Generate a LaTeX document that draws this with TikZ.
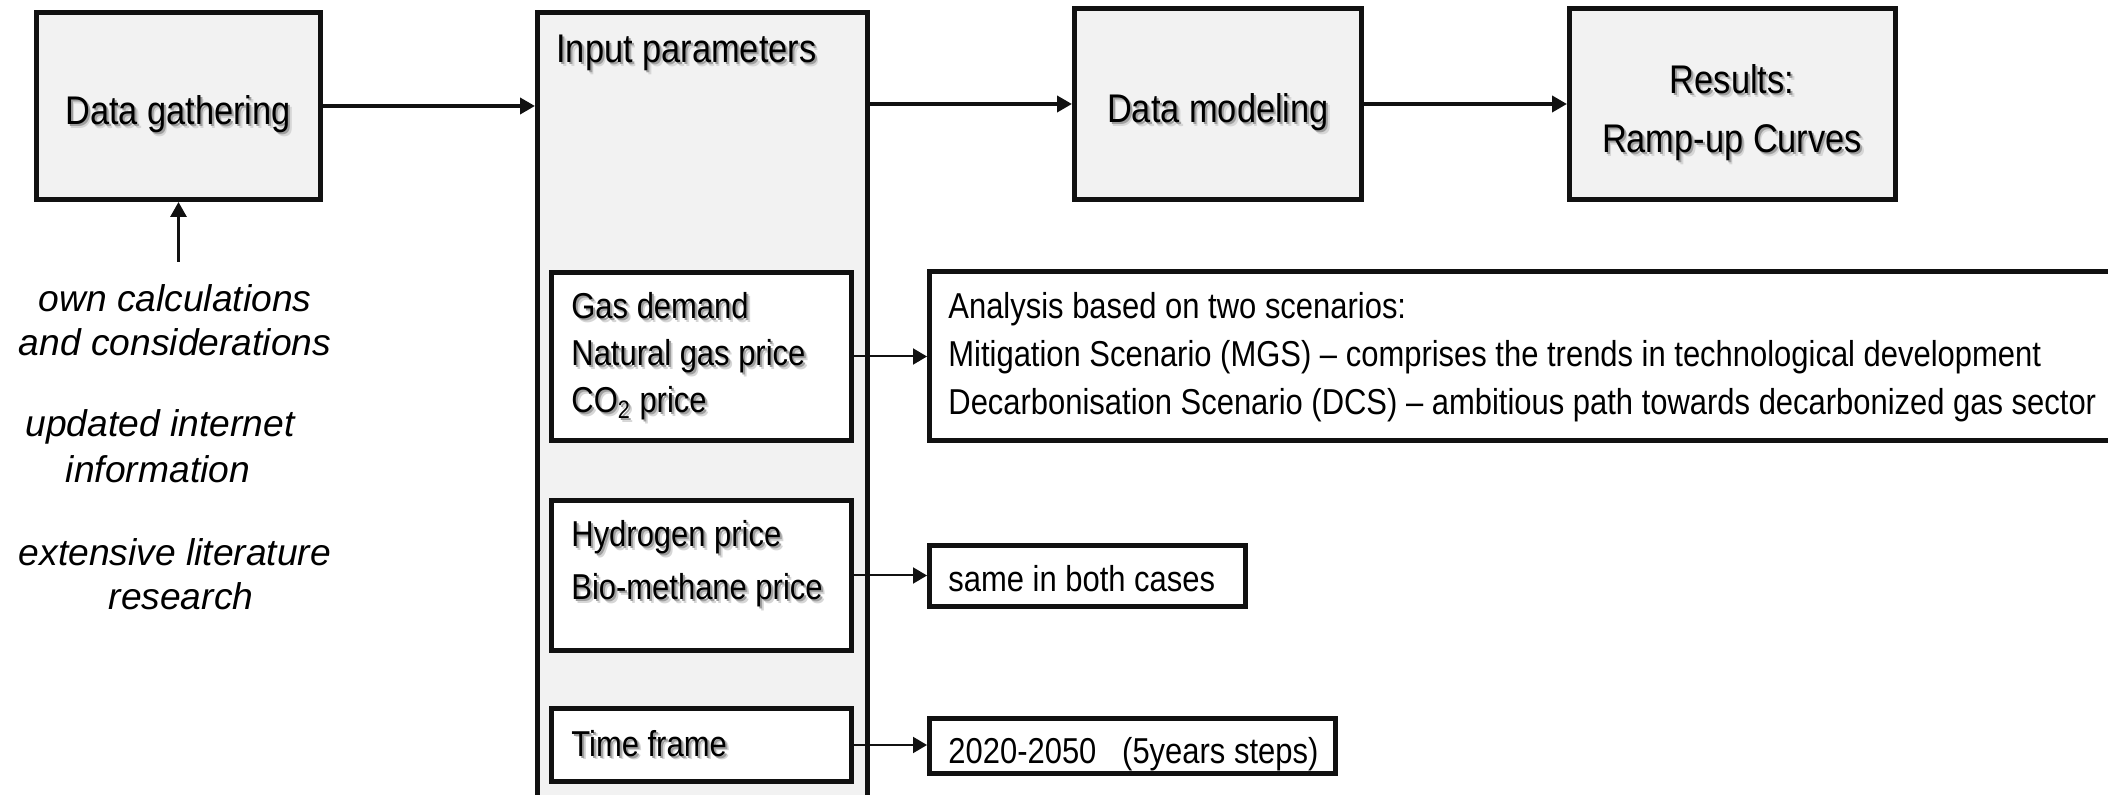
\documentclass[tikz,border=0pt]{standalone}
\usepackage{fontspec}
\setmainfont{Liberation Sans}[FakeStretch=0.86]
\newfontfamily\itfam{Liberation Sans}
\usetikzlibrary{arrows.meta}
\definecolor{boxfill}{HTML}{F2F2F2}
\definecolor{ink}{HTML}{111111}
\newcommand\shd[1]{\leavevmode\rlap{\kern1.8pt\raisebox{-1.8pt}{\textcolor{black!16}{#1}}}\rlap{\kern1.0pt\raisebox{-1.0pt}{\textcolor{black!38}{#1}}}#1}
\begin{document}
\begin{tikzpicture}[x=0.5pt,y=-0.5pt,
  bigbox/.style={draw=ink, line width=2.5pt, fill=boxfill, inner sep=0pt},
  subbox/.style={draw=ink, line width=2.5pt, fill=white, inner sep=0pt},
  bigtxt/.style={inner sep=0pt, font=\fontsize{20}{24}\selectfont},
  smalltxt/.style={inner sep=0pt, font=\fontsize{18}{22}\selectfont},
  ittxt/.style={inner sep=0pt, font=\itfam\itshape\fontsize{18.6}{22}\selectfont},
  mainarrow/.style={draw=ink, line width=2pt, -{Triangle[length=7.5pt,width=8pt]}},
  subarrow/.style={draw=ink, line width=1pt, -{Triangle[length=7pt,width=8pt]}},
]
\useasboundingbox (0,0) rectangle (2108,795);
\clip (0,0) rectangle (2108,795);

% boxes
\node[bigbox, minimum width=142pt, minimum height=93.5pt] (dg) at (178.5,106) {};
\node[bigbox, minimum width=165pt, minimum height=407.5pt] (inp) at (702.5,420) {};
\node[bigbox, minimum width=143.5pt, minimum height=95.5pt] (dm) at (1218,104) {};
\node[bigbox, minimum width=163pt, minimum height=95.5pt] (res) at (1732.5,104) {};
\node[subbox, minimum width=150pt, minimum height=84pt] (gas) at (701.5,356.5) {};
\node[subbox, minimum width=150pt, minimum height=75pt] (hyd) at (701.5,575.5) {};
\node[subbox, minimum width=150pt, minimum height=36.5pt] (tf) at (701.5,745) {};
\node[subbox, minimum width=604pt, minimum height=84.5pt] (ana) at (1533.5,356) {};
\node[subbox, minimum width=158pt, minimum height=30.5pt] (same) at (1087.5,576) {};
\node[subbox, minimum width=203pt, minimum height=27.5pt] (yrs) at (1132.5,746) {};

% box labels
\node[bigtxt, anchor=base] (dgt) at (178,125) {\shd{Data gathering}};
\node[bigtxt, anchor=base west] (inpt) at (556,63) {\shd{Input parameters}};
\node[bigtxt, anchor=base] (dmt) at (1218,123) {\shd{Data modeling}};
\node[bigtxt, anchor=base] (res1) at (1732,94) {\shd{Results:}};
\node[bigtxt, anchor=base] (res2) at (1732,153) {\shd{Ramp-up Curves}};

\node[smalltxt, anchor=base west] (g1) at (571,319) {\shd{Gas demand}};
\node[smalltxt, anchor=base west] (g2) at (571,366) {\shd{Natural gas price}};
\node[smalltxt, anchor=base west] (g3) at (571,413) {\shd{CO\textsubscript{2} price}};
\node[smalltxt, anchor=base west] (h1) at (571,547) {\shd{Hydrogen price}};
\node[smalltxt, anchor=base west] (h2) at (571,600) {\shd{Bio-methane price}};
\node[smalltxt, anchor=base west] (t1) at (571,756) {\shd{Time frame}};

\node[smalltxt, anchor=base west] (a1) at (948,319) {Analysis based on two scenarios:};
\node[smalltxt, anchor=base west] (a2) at (948,367) {Mitigation Scenario (MGS) -- comprises the trends in technological development};
\node[smalltxt, anchor=base west] (a3) at (948,415) {Decarbonisation Scenario (DCS) -- ambitious path towards decarbonized gas sector};
\node[smalltxt, anchor=base west] (s1) at (948,592) {same in both cases};
\node[smalltxt, anchor=base west] (y1) at (948,763) {2020-2050\ \ \ (5years steps)};

% sources
\node[ittxt, anchor=base] (o1) at (175,312) {own calculations};
\node[ittxt, anchor=base] (o2) at (175,356) {and considerations};
\node[ittxt, anchor=base] (o3) at (160,437) {updated internet};
\node[ittxt, anchor=base] (o4) at (158,483) {information};
\node[ittxt, anchor=base] (o5) at (175,566) {extensive literature};
\node[ittxt, anchor=base] (o6) at (181,610) {research};

% connectors
\draw[mainarrow] (dg.east) -- (dg.east -| inp.west);
\draw[mainarrow] (dm.west -| inp.east) -- (dm.west);
\draw[mainarrow] (dm.east) -- (res.west);
\coordinate (src) at (178.5,262);
\draw[mainarrow, line width=1.5pt] (src) -- (dg.south);
\draw[subarrow] (gas.east) -- (gas.east -| ana.west);
\draw[subarrow] (hyd.east) -- (hyd.east -| same.west);
\draw[subarrow] (tf.east) -- (tf.east -| yrs.west);
\end{tikzpicture}
\end{document}
